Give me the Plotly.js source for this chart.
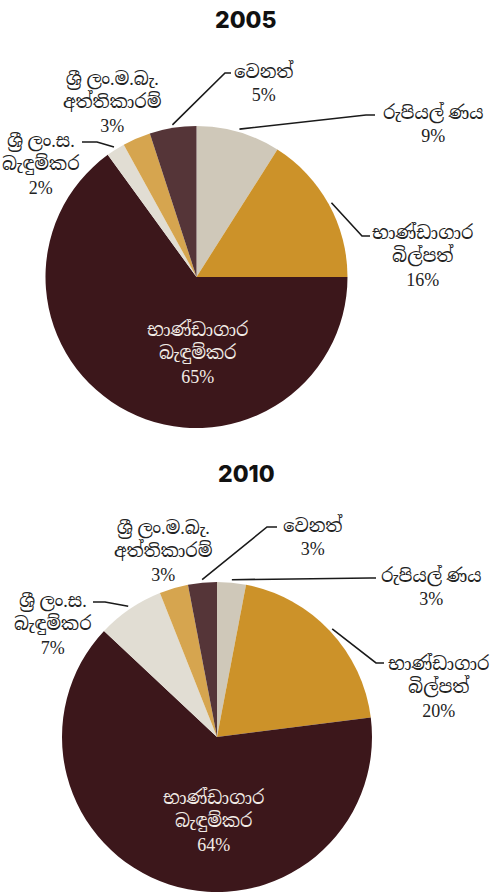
<!DOCTYPE html>
<html>
<head>
<meta charset="utf-8">
<script src="https://cdn.plot.ly/plotly-3.0.1.min.js"></script>
<style>
  html, body { margin: 0; padding: 0; background: #ffffff; }
  #chart { width: 492px; height: 894px; }
</style>
</head>
<body>
<div id="chart"></div>
<script>
// Composition of government debt, by instrument (%)
const categories = [
  "රුපියල් ණය",
  "භාණ්ඩාගාර<br>බිල්පත්",
  "භාණ්ඩාගාර<br>බැඳුම්කර",
  "ශ්‍රී ලං.ස.<br>බැඳුම්කර",
  "ශ්‍රී ලං.ම.බැ.<br>අත්තිකාරම්",
  "වෙනත්"
];
const years = ["2005", "2010"];
const values2005 = [9, 16, 65, 2, 3, 5];
const values2010 = [3, 20, 64, 7, 3, 3];

const sliceColors = ["#cfc8b9", "#cc9229", "#3c171b", "#e1ddd3", "#d6a54f", "#553538"];

const W = 492, H = 894;
const serif = "'Liberation Serif', 'Noto Serif Sinhala', 'Noto Sans Sinhala', 'DejaVu Serif', serif";

// Pie placement in pixels (centre and radius) for each panel
const pies = [
  { values: values2005, cx: 196.5, cy: 277, r: 151, titleY: 20 },
  { values: values2010, cx: 217, cy: 737, r: 155, titleY: 474 }
];

// Label placement per panel and slice: label centre, and optional leader elbow / end
const labelLayout = [
  [
    { x: 433, y: 124, elbow: [366, 115], end: [375, 115] },
    { x: 422, y: 256, elbow: [362, 236], end: [370, 236] },
    { x: 197, y: 353, inside: true },
    { x: 41, y: 164, elbow: [97, 142], end: [82, 142] },
    { x: 112, y: 103 },
    { x: 263, y: 83, elbow: [225, 73], end: [231, 73] }
  ],
  [
    { x: 431, y: 587, elbow: [370, 578], end: [376, 578] },
    { x: 438, y: 687, elbow: [376, 663], end: [384, 663] },
    { x: 213, y: 821, inside: true },
    { x: 53, y: 624, elbow: [105, 602], end: [93, 602] },
    { x: 163, y: 551 },
    { x: 312, y: 536, elbow: [267, 527], end: [277, 527] }
  ]
];

const px = x => x / W;
const py = y => 1 - y / H;

const traces = [];
const annotations = [];
const shapes = [];

pies.forEach((p, i) => {
  traces.push({
    type: "pie",
    values: p.values,
    labels: categories,
    sort: false,
    direction: "clockwise",
    rotation: 0,
    textinfo: "none",
    hoverinfo: "label+percent",
    marker: { colors: sliceColors, line: { width: 0 } },
    showlegend: false,
    domain: {
      x: [px(p.cx - p.r), px(p.cx + p.r)],
      y: [py(p.cy + p.r), py(p.cy - p.r)]
    }
  });

  annotations.push({
    text: years[i],
    x: 0.5, y: py(p.titleY), xref: "paper", yref: "paper",
    xanchor: "center", yanchor: "middle", showarrow: false,
    font: { family: "Inter, 'Open Sans', sans-serif", size: 23, weight: 800, color: "#111111" }
  });

  const total = p.values.reduce((a, b) => a + b, 0);
  let cum = 0;
  p.values.forEach((v, k) => {
    const mid = (cum + v / 2) / total * 2 * Math.PI;
    cum += v;
    const L = labelLayout[i][k];
    annotations.push({
      text: categories[k] + "<br>" + v + "%",
      x: px(L.x), y: py(L.y), xref: "paper", yref: "paper",
      xanchor: "center", yanchor: "middle", showarrow: false,
      align: "center",
      font: { family: serif, size: 18, color: L.inside ? "#f2ece6" : "#222222" }
    });
    if (L.elbow) {
      // leader starts just outside the slice edge at its mid-angle
      const sx = p.cx + (p.r + 3) * Math.sin(mid);
      const sy = p.cy - (p.r + 3) * Math.cos(mid);
      shapes.push({
        type: "path", xref: "paper", yref: "paper",
        path: `M ${px(sx)} ${py(sy)} L ${px(L.elbow[0])} ${py(L.elbow[1])} L ${px(L.end[0])} ${py(L.end[1])}`,
        line: { color: "#1a1a1a", width: 1.6 }
      });
    }
  });
});

Plotly.newPlot("chart", traces, {
  width: W, height: H,
  margin: { l: 0, r: 0, t: 0, b: 0 },
  paper_bgcolor: "#ffffff",
  annotations: annotations,
  shapes: shapes
}, { displayModeBar: false, staticPlot: true });
</script>
</body>
</html>
